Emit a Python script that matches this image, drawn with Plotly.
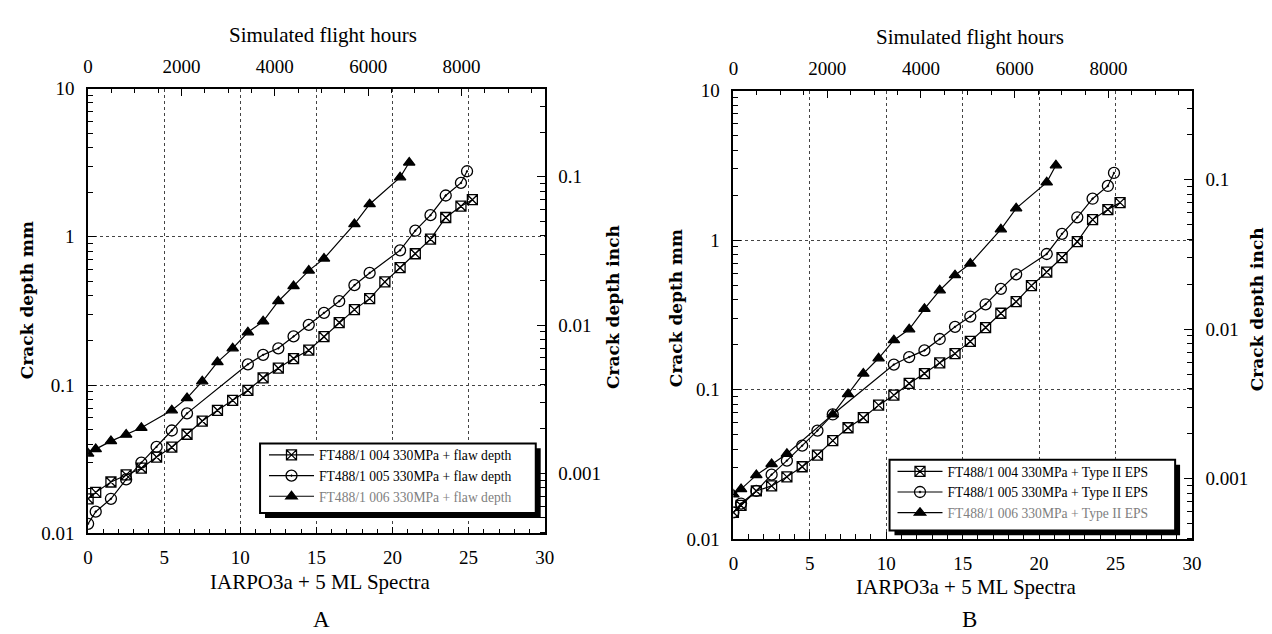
import plotly.graph_objects as go

# ---------------- data ----------------
# Panel A : "+ flaw depth"
a_sq_x = [0, 0.5, 1.5, 2.5, 3.5, 4.5, 5.5, 6.5, 7.5, 8.5, 9.5, 10.5, 11.5, 12.5, 13.5,
          14.5, 15.5, 16.5, 17.5, 18.5, 19.5, 20.5, 21.5, 22.5, 23.5, 24.5, 25.25]
a_sq_y = [0.0171, 0.0189, 0.0222, 0.0248, 0.0275, 0.0327, 0.0381, 0.0466, 0.0572, 0.0676,
          0.0789, 0.0922, 0.112, 0.130, 0.151, 0.172, 0.212, 0.264, 0.323, 0.383,
          0.497, 0.619, 0.769, 0.964, 1.35, 1.61, 1.78]
a_ci_x = [0, 0.5, 1.5, 2.5, 3.5, 4.5, 5.5, 6.5, 10.5, 11.5, 12.5, 13.5, 14.5, 15.5,
          16.5, 17.5, 18.5, 20.5, 21.5, 22.5, 23.5, 24.5, 24.9]
a_ci_y = [0.0116, 0.0140, 0.0171, 0.0231, 0.0300, 0.0383, 0.0494, 0.0645, 0.138, 0.160,
          0.177, 0.213, 0.255, 0.307, 0.368, 0.472, 0.571, 0.811, 1.10, 1.40, 1.90, 2.31, 2.77]
a_tr_x = [0, 0.5, 1.5, 2.5, 3.5, 5.5, 6.5, 7.5, 8.5, 9.5, 10.5, 11.5, 12.5, 13.5,
          14.5, 15.5, 17.5, 18.5, 20.5, 21.1]
a_tr_y = [0.0345, 0.0370, 0.0419, 0.0463, 0.0515, 0.0676, 0.0817, 0.106, 0.143, 0.177,
          0.227, 0.269, 0.368, 0.465, 0.592, 0.713, 1.22, 1.66, 2.52, 3.17]

# Panel B : "+ Type II EPS"
b_sq_x = [0, 0.5, 1.5, 2.5, 3.5, 4.5, 5.5, 6.5, 7.5, 8.5, 9.5, 10.5, 11.5, 12.5, 13.5,
          14.5, 15.5, 16.5, 17.5, 18.5, 19.5, 20.5, 21.5, 22.5, 23.5, 24.5, 25.3]
b_sq_y = [0.0151, 0.0168, 0.0210, 0.0227, 0.0261, 0.0305, 0.0365, 0.0456, 0.0556, 0.0649,
          0.0787, 0.0918, 0.110, 0.128, 0.151, 0.174, 0.210, 0.260, 0.324, 0.387,
          0.496, 0.611, 0.764, 0.975, 1.37, 1.60, 1.78]
b_ci_x = [0, 0.5, 1.5, 2.5, 3.5, 4.5, 5.5, 6.5, 10.5, 11.5, 12.5, 13.5, 14.5, 15.5,
          16.5, 17.5, 18.5, 20.5, 21.5, 22.5, 23.5, 24.5, 24.9]
b_ci_y = [0.0151, 0.0173, 0.0210, 0.0270, 0.0335, 0.0422, 0.0532, 0.0682, 0.147, 0.165,
          0.183, 0.218, 0.263, 0.308, 0.372, 0.472, 0.590, 0.807, 1.10, 1.42, 1.89, 2.30, 2.81]
b_tr_x = [0, 0.5, 1.5, 2.5, 3.5, 6.5, 7.5, 8.5, 9.5, 10.5, 11.5, 12.5, 13.5, 14.5,
          15.5, 17.5, 18.5, 20.5, 21.1]
b_tr_y = [0.0199, 0.0216, 0.0268, 0.0318, 0.0372, 0.0682, 0.0933, 0.128, 0.162, 0.214,
          0.253, 0.347, 0.461, 0.582, 0.696, 1.18, 1.63, 2.43, 3.16]

names_a = ["FT488/1 004 330MPa + flaw depth",
           "FT488/1 005 330MPa + flaw depth",
           "FT488/1 006 330MPa + flaw depth"]
names_b = ["FT488/1 004 330MPa + Type II EPS",
           "FT488/1 005 330MPa + Type II EPS",
           "FT488/1 006 330MPa + Type II EPS"]

x_ticks = [0, 5, 10, 15, 20, 25, 30]
hours_ticks = [0, 2000, 4000, 6000, 8000]
mm_ticks = [0.01, 0.1, 1, 10]
inch_ticks = [0.001, 0.01, 0.1]
HOURS_PER_SPECTRUM = 326        # top axis scale: flight hours per spectrum unit
MM_PER_INCH = 25.4

# ---------------- styling ----------------
W, H = 1272, 634
TICKFONT = dict(family="Liberation Serif", size=19, color="black")
TITLEFONT = dict(family="Liberation Serif", size=21, color="black")
BOLDFONT = dict(family="DejaVu Serif", size=17, color="black")
GRID = "#444444"


def px(x):
    return x / W


def py(y):
    return 1 - y / H


panels = [
    dict(dom_x=[px(76), px(538)], dom_y=[py(533), py(73)],
         data=[(a_sq_x, a_sq_y), (a_ci_x, a_ci_y), (a_tr_x, a_tr_y)], names=names_a,
         legend="legend", ax=["x", "x2", "y", "y2"]),
    dict(dom_x=[px(729), px(1193)], dom_y=[py(539), py(75)],
         data=[(b_sq_x, b_sq_y), (b_ci_x, b_ci_y), (b_tr_x, b_tr_y)], names=names_b,
         legend="legend2", ax=["x3", "x4", "y3", "y4"]),
]

symbols = ["square-x-open", "circle-open-dot", "triangle-up"]
sizes = [10, 11, 10]

fig = go.Figure()
layout = dict(width=W, height=H, margin=dict(l=0, r=0, t=0, b=0),
              paper_bgcolor="white", plot_bgcolor="white", showlegend=True,
              font=dict(family="Liberation Serif", color="black"))


def axname(a):
    return "xaxis" + a[1:] if a.startswith("x") else "yaxis" + a[1:]


def minor_log(lo, hi):
    vals = []
    e = lo
    while e < hi:
        for m in range(2, 10):
            vals.append(m * 10 ** e)
        e += 1
    return vals


for p in panels:
    xb, xt, yl, yr = p["ax"]
    for i, ((xs, ys), nm) in enumerate(zip(p["data"], p["names"])):
        label = nm if i < 2 else '<span style="color:#808080">' + nm + '</span>'
        fig.add_trace(go.Scatter(
            x=xs, y=ys, mode="lines+markers", name=label,
            line=dict(color="black", width=1.2),
            marker=dict(symbol=symbols[i], size=sizes[i], color="black",
                        line=dict(color="black", width=1.3)),
            xaxis=xb, yaxis=yl, legend=p["legend"], hoverinfo="skip"))
    # empty carriers for the secondary axes
    fig.add_trace(go.Scatter(x=[], y=[], xaxis=xt, yaxis=yr, showlegend=False,
                             hoverinfo="skip"))

    common_ticks = dict(ticks="inside", tickcolor="black", showline=True,
                        linecolor="black", linewidth=1.5, tickfont=TICKFONT,
                        zeroline=False, fixedrange=True)
    layout[axname(xb)] = dict(
        domain=p["dom_x"], anchor=yl, range=[0, 30], tickvals=x_ticks,
        ticklen=7, tickwidth=1.2, showgrid=True, gridcolor=GRID, griddash="dot",
        gridwidth=1, ticklabelstandoff=6,
        minor=dict(dtick=1, ticks="inside", ticklen=5, tickcolor="black",
                   showgrid=False),
        **common_ticks)
    layout[axname(xt)] = dict(
        overlaying=xb, anchor=yl, side="top",
        range=[0, 30 * HOURS_PER_SPECTRUM], tickvals=hours_ticks,
        ticklen=8, tickwidth=1.2, showgrid=False, ticklabelstandoff=6,
        minor=dict(dtick=500, ticks="inside", ticklen=5, tickcolor="black",
                   showgrid=False),
        **common_ticks)
    layout[axname(yl)] = dict(
        domain=p["dom_y"], anchor=xb, type="log", range=[-2, 1],
        tickvals=mm_ticks, ticktext=["0.01", "0.1", "1", "10"],
        ticklen=8, tickwidth=1.2, showgrid=True, gridcolor=GRID, griddash="dot",
        gridwidth=1, ticklabelstandoff=8,
        minor=dict(tickvals=minor_log(-2, 1), ticks="inside", ticklen=5,
                   tickcolor="black", showgrid=False),
        **common_ticks)
    layout[axname(yr)] = dict(
        overlaying=yl, anchor=xb, side="right", type="log",
        range=[-2 - 1.4048337, 1 - 1.4048337],
        tickvals=inch_ticks, ticktext=["0.001", "0.01", "0.1"],
        ticklen=8, tickwidth=1.2, showgrid=False, ticklabelstandoff=8,
        minor=dict(tickvals=minor_log(-4, 0), ticks="inside", ticklen=5,
                   tickcolor="black", showgrid=False),
        **common_ticks)

legend_common = dict(xanchor="left", yanchor="top", bgcolor="rgba(0,0,0,0)",
                     bordercolor="black", borderwidth=0,
                     font=dict(family="Liberation Serif", size=13.6, color="black"),
                     itemwidth=45, tracegroupgap=0, itemclick=False,
                     itemdoubleclick=False)
layout["legend"] = dict(x=px(254), y=py(436), **legend_common)
layout["legend2"] = dict(x=px(890), y=py(453), **legend_common)

# legend frames with drop shadows
shapes = []
for (l, t, r, b) in [(250, 440, 529, 512), (887, 457, 1176, 530)]:
    shapes.append(dict(type="rect", xref="paper", yref="paper",
                       x0=px(l + 5), x1=px(r + 5), y0=py(b + 5), y1=py(t + 5),
                       fillcolor="black", line=dict(width=0), layer="above"))
    shapes.append(dict(type="rect", xref="paper", yref="paper",
                       x0=px(l), x1=px(r), y0=py(b), y1=py(t),
                       fillcolor="white", line=dict(color="black", width=2),
                       layer="above"))
layout["shapes"] = shapes

ann = []


def add_text(txt, x, y, font, angle=0):
    ann.append(dict(text=txt, x=px(x), y=py(y), xref="paper", yref="paper",
                    showarrow=False, xanchor="center", yanchor="middle",
                    font=font, textangle=angle))


add_text("Simulated flight hours", 314, 18, TITLEFONT)
add_text("Simulated flight hours", 968, 20, TITLEFONT)
add_text("IARPO3a + 5 ML Spectra", 311, 583, TITLEFONT)
add_text("IARPO3a + 5 ML Spectra", 965, 588, TITLEFONT)
add_text("A", 312, 622, dict(family="Liberation Serif", size=23, color="black"))
add_text("B", 968, 622, dict(family="Liberation Serif", size=23, color="black"))
add_text("<b>Crack depth mm</b>", 15, 292, BOLDFONT, -90)
add_text("<b>Crack depth mm</b>", 671, 300, BOLDFONT, -90)
add_text("<b>Crack depth inch</b>", 607, 299, BOLDFONT, -90)
add_text("<b>Crack depth inch</b>", 1259, 301, BOLDFONT, -90)
layout["annotations"] = ann

fig.update_layout(**layout)
fig.write_html("out.html")
